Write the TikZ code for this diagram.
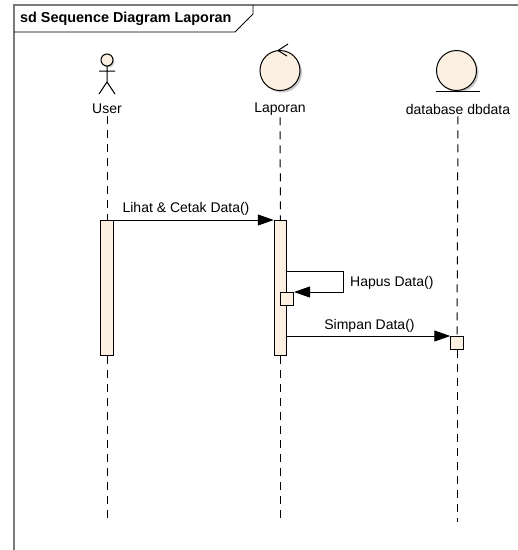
\documentclass[tikz,border=0pt]{standalone}
\usepackage{fontspec}
\setmainfont{Liberation Sans}
\usetikzlibrary{arrows.meta}
\definecolor{cream}{HTML}{FBF0E1}
\definecolor{framegray}{HTML}{7A7A7A}
\definecolor{shadowgray}{HTML}{C8C8C8}
\begin{document}
\begin{tikzpicture}[x=1pt,y=-1pt,
  lbl/.style={font=\fontsize{14}{16}\selectfont, inner sep=2pt},
  lifeline/.style={line width=1pt, dash pattern=on 8pt off 6pt},
  actbar/.style={draw, line width=1pt, fill=cream, inner sep=0pt},
  msg/.style={line width=1pt, -{Triangle[length=16pt,width=11pt]}},
  fig/.style={draw, line width=1pt, fill=cream},
  shadow/.style={fill=shadowgray}]
\useasboundingbox (0,0) rectangle (518,550);
\fill[white] (0,0) rectangle (518,550);
% frame
\draw[framegray, line width=2pt] (14,552) -- (14,5) -- (520,5);
\draw[line width=0.8pt] (14,32) -- (235,32) -- (253,14) -- (253,5);
\node[font=\bfseries\fontsize{14.4}{16}\selectfont, anchor=west, inner sep=0pt] (title) at (20,19) {sd Sequence Diagram Laporan};
% actor User
\fill[shadow] (108.5,61.5) circle (6);
\draw[fig] (107,60) circle (6);
\draw[line width=1pt] (107,66) -- (107,82) (99,71) -- (115,71) (99,94) -- (107,82) -- (115,94);
\node[lbl] (user) at (107,109) {User};
% control Laporan
\fill[shadow] (282,72.5) circle (20);
\draw[fig] (280,70.5) circle (20);
\draw[line width=1pt] (288,44) -- (278,50.5) -- (287,56);
\node[lbl] (lap) at (280,109) {Laporan};
% entity database
\fill[shadow] (458.5,72.5) circle (20);
\draw[fig] (456.5,70.5) circle (20);
\draw[line width=1pt] (436,91) -- (480,91);
\node[lbl] (dbl) at (458,109) {database dbdata};
% activation bars
\node[actbar, minimum width=12.5pt, minimum height=135pt, anchor=north] (ua) at (107,220) {};
\node[actbar, minimum width=12.5pt, minimum height=135pt, anchor=north] (la) at (280.5,220) {};
\node[actbar, minimum width=13pt, minimum height=13pt, anchor=north west] (hb) at (280,292) {};
\node[actbar, minimum width=12.5pt, minimum height=13pt, anchor=north] (dbb) at (457,336) {};
% lifelines
\coordinate (uend) at (107,522);
\coordinate (lend) at (280.5,522);
\coordinate (dend) at (457,522);
\draw[lifeline] (user.south) -- (ua.north);
\draw[lifeline] (ua.south) -- (uend);
\draw[lifeline] (lap.south) -- (la.north);
\draw[lifeline] (la.south) -- (lend);
\draw[lifeline] (dbl.south) -- (dbb.north);
\draw[lifeline] (dbb.south) -- (dend);
% messages
\draw[msg] (ua.north east) -- (la.north west);
\node[lbl] (m1) at (186,209) {Lihat \& Cetak Data()};
\coordinate (s1) at (343,271);
\coordinate (s2) at (343,292);
\draw[msg] (la.east |- s1) -- (s1) -- (s2) -- (hb.north east);
\node[lbl, anchor=west] (m2) at (348,283) {Hapus Data()};
\draw[msg] (la.east |- dbb.north) -- (dbb.north west);
\node[lbl] (m3) at (369.5,326) {Simpan Data()};
\end{tikzpicture}
\end{document}
